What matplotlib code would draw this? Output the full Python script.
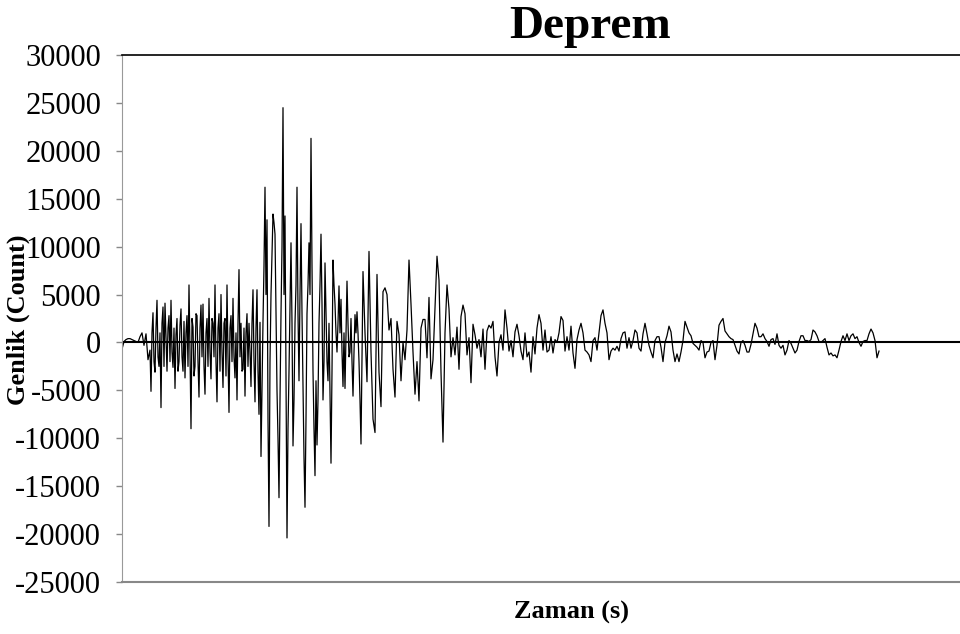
import matplotlib
matplotlib.use("Agg")
import matplotlib.pyplot as plt
import numpy as np

# amplitude readings in thousands of counts
# (segment, sample spacing) - the strong-motion part is read at finer spacing
pre_event = [-0.7, 0.1, 0.3, 0.4, 0.4, 0.3, 0.2, 0.1, 0.0, 0.6, 1.0, -0.3, 0.9, -1.8, -0.8]

p_wave = [-5.1, 1.0, 3.1, -2.0, -3.1, 1.5, 4.4, -1.5, -2.5, 1.0, -6.8, 2.0, 3.7, -2.5, 4.1, 0.5, -3.0, 1.5, 2.8, -2.0,
          4.4, -1.0, -2.6, 1.5, -4.8, 0.8, 2.5, -3.0, -2.0, 1.8, 3.5, -1.5, -3.0, 2.2, -3.7, 1.0, 2.8, -2.5, 6.0, -1.0,
          -9.0, 2.5, 1.6, -3.5, -2.5, 3.0, 2.8, -2.0, -5.7, 1.5, 3.9, -1.5, 4.0, -2.5, -5.4, 1.0, 2.5, -2.5, 4.6, -1.0,
          -3.8, 2.5, 2.0, -1.5, 6.0, -2.0, -6.2, 1.5, 3.0, -3.0, 5.0, -1.0, -4.7, 2.0, 2.5, -3.5, 6.0, -1.5, -7.3, 1.5,
          2.8, -2.0, 4.6, -1.5, -3.7, 1.0, -6.0, 2.0, 7.6, -1.5, 2.0, -3.0, -2.8, 1.5, -5.6, 1.0, 3.0, -2.5, 2.0, -1.0,
          -4.6, 2.0, 5.5, -2.0, -6.2, 1.5, 5.5, -3.0, -7.5, 2.1, -11.9]

s_wave = [-5.0, 2.2, 8.0, 16.2, 5.0, 12.8, -8.0, -19.2, -2.0, 5.0,
          9.0, 13.4, 12.5, 11.3, 3.0, -5.0, -10.0, -16.2, -6.0, 3.0,
          10.0, 24.5, 5.0, 13.2, -4.0, -20.4, -9.0, -3.0, 4.0, 10.4,
          2.0, -10.8, -6.0, 2.0, 6.0, 16.2, 3.0, -4.0, 5.0, 12.4,
          3.0, -4.2, -12.0, -17.2, -8.0, 3.0, 6.0, 10.4, 5.0, 21.3,
          8.0, -3.0, -9.0, -13.9, -4.0, -10.7, -6.0, 2.0, 6.0, 11.3,
          4.0, -6.0, -2.0, 8.3, 3.0, -2.0, -4.0, 2.0, -5.0, -12.6,
          -3.0, 8.6, 6.0, 4.0, 1.0, -1.0, 2.0, 5.9, 1.0, 4.5,
          -1.0, -4.6, 1.0, -4.8, 1.0, 6.4, 2.0, -1.5, -1.0, 2.5,
          -2.0, -5.6, -1.0, 2.9, 1.0, 3.2, 1.0, -2.0, -6.0, -10.6]

late_s = [7.4, 1.0, -4.1, 9.5, -1.0, -8.0, -9.4, 7.1, -3.1, -6.7,
          5.3, 5.7, 5.0, 1.3, 2.5, -2.8, -5.7, 2.2, 0.8, -4.0,
          0.0, -1.8, 1.3, 8.6, 4.0, -1.0, -5.4, -2.0, -6.1, 1.5,
          2.4, 2.4, -1.6, 4.7, -3.8, -1.8, 3.5, 9.0, 6.5, -3.1,
          -10.4, 1.0, 6.0, 3.5, -1.5, 0.5, -1.3, 1.6, -2.8, 2.7,
          3.9, 3.0, -1.3, 0.5]

coda_1 = [-4.2, 1.9, 0.8, -0.6, 0.3, -1.5, 1.4, -2.8, 1.2, 1.8,
          1.5, 2.2, -1.5, -3.5, 0.0, 0.8, -0.8, 3.4, 1.5, -0.9,
          0.2, -1.5, 1.1, 1.9, 0.7, -0.9, -1.8, 1.0, -1.5, -1.0,
          -3.1, 0.6, -1.2, 1.5, 2.9, 2.0, -0.8, 1.3, -1.0, -0.8,
          0.6, -1.1, 0.3, 0.0, 1.0, 2.7, 2.3, -0.9, 0.6, -0.8,
          1.7, -1.1, -2.7, 0.3, 1.3, 2.0, 1.0, -0.8, -1.0, -1.3,
          -2.0, 0.2, 0.5, -0.8, 1.0, 2.8, 3.4, 2.0, 1.0, -1.8,
          -0.9, -0.6, -0.8, -0.4, -0.9]

coda_2 = [0.4, 1.0, 1.1, -0.6, 0.5, -0.6, 0.2, 1.3, 1.0, -0.6,
          -0.9, 0.9, 2.0, 0.9, -0.3, -1.0, -1.6, 0.2, 0.6, 0.6,
          -0.5, -2.0, 0.0, 0.7, 1.7, 1.1, -0.8, -2.0, -1.2, -2.0,
          -1.0, 0.2, 2.2, 1.6, 1.0, 0.7, -0.1, -0.3, -0.5, -0.8,
          0.2, 0.0, -1.6, -1.0, -0.9, 0.0, 0.2, -1.8, -0.3, 1.8,
          2.2, 2.5, 1.2, 0.9, 0.6, 0.4, 0.3, -0.3, -0.9, -1.2,
          0.0, 0.2, -0.3, -1.0, -1.0]

coda_3 = [-0.2, 0.9, 2.0, 1.5, 0.6, 0.6, 0.9, 0.4, 0.1, -0.4,
          0.3, 0.4, -0.2, 0.9, -0.3, -0.6, -0.3, -1.3, -0.8, 0.2,
          -0.1, -0.6, -1.1, -0.8, 0.1, 0.7, 0.7, 0.2, 0.2, 0.1,
          0.3, 1.3, 1.1, 0.7, 0.1, 0.0, 0.2, 0.4, -0.5, -1.3,
          -1.1, -1.4, -1.3, -1.6, -0.8, 0.1, 0.7, 0.2, 0.9, 0.2,
          0.7, 0.9, 0.4, 0.6, 0.0, -0.4, 0.1, 0.2, 0.2, 0.9,
          1.4, 1.0, 0.2, -1.6, -0.9]

segments = [(pre_event, 2), (p_wave, 1), (s_wave, 1), (late_s, 2),
            (coda_1, 2), (coda_2, 2), (coda_3, 2)]

y_ticks = [30000, 25000, 20000, 15000, 10000, 5000, 0,
           -5000, -10000, -15000, -20000, -25000]

# build the time axis segment by segment
t_parts, a_parts = [], []
last = None
for vals, step in segments:
    start = 0 if last is None else last + step
    tt = start + step * np.arange(len(vals))
    t_parts.append(tt)
    a_parts.append(np.array(vals) * 1000)
    last = tt[-1]
t = np.concatenate(t_parts)
amp = np.concatenate(a_parts)

plt.rcParams["font.family"] = ["Liberation Serif", "DejaVu Serif"]

fig = plt.figure(figsize=(9.6, 6.34), dpi=100)
ax = fig.add_axes([122 / 960, 1 - 582 / 634, 1 - 122 / 960, (582 - 55) / 634])

ax.plot(t, amp, color="black", linewidth=0.9)
ax.axhline(0, color="black", linewidth=1.5)

ax.set_xlim(0, 838)
ax.set_ylim(-25000, 30000)
ax.set_yticks(y_ticks)
ax.set_yticklabels([str(v) for v in y_ticks], fontsize=22)
ax.set_xticks([])
ax.tick_params(axis="y", direction="out", length=4, color="#888888", width=1, pad=11)

ax.spines["right"].set_visible(False)
ax.spines["top"].set_color("black")
ax.spines["top"].set_linewidth(1.2)
ax.spines["left"].set_color("#999999")
ax.spines["bottom"].set_color("#888888")
ax.spines["bottom"].set_linewidth(1.5)

fig.text(590 / 960, 1 - 27 / 634, "Deprem", ha="center", va="center",
         fontsize=34, fontweight="bold")
fig.text(572 / 960, 1 - 612 / 634, "Zaman (s)", ha="center", va="center",
         fontsize=19, fontweight="bold")
fig.text(18 / 960, 1 - 320 / 634, "Genlik (Count)", ha="center", va="center",
         rotation=90, fontsize=19, fontweight="bold")

fig.savefig("out.png", dpi=100)
